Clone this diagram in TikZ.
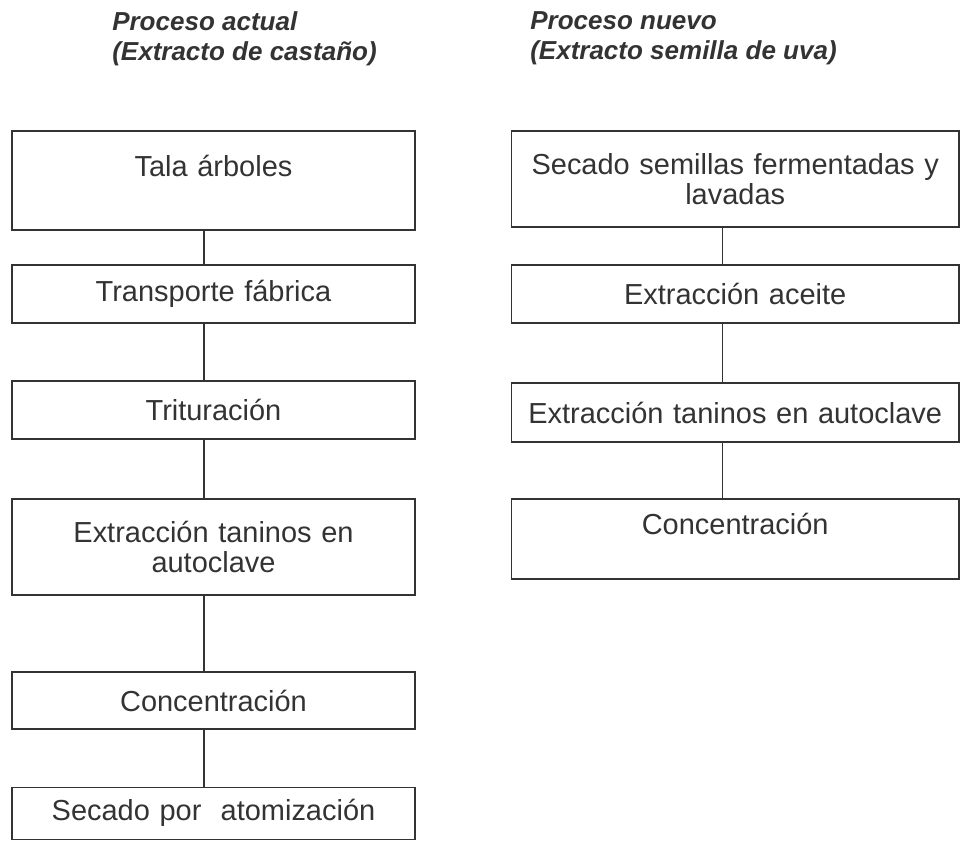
\documentclass[tikz,border=0pt]{standalone}
\usepackage{fontspec}
\setmainfont{Liberation Sans}
\usetikzlibrary{positioning}
\definecolor{ink}{HTML}{333333}

\begin{document}
\begin{tikzpicture}
		[auto,
		block/.style ={rectangle, draw=ink, line width=1pt, text=ink, minimum width=10.075cm, text width=9.7cm, align=center, inner sep=0pt, font=\fontsize{20.6}{21.3}\selectfont},
		wide/.style = {block, minimum width=11.18cm, text width=10.9cm},
		line/.style ={draw=ink, line width=1pt},
		title/.style ={text=ink, align=left, anchor=north west, inner sep=0pt, font=\fontsize{18.5}{21.3}\selectfont\bfseries\itshape},
		]
		\useasboundingbox (0,0) rectangle (24,-21);

		\draw (2.8,-0.28) node[title] (T1) {Proceso actual\\(Extracto de castaño)};
		\draw (13.25,-0.28) node[title] (T2) {Proceso nuevo\\(Extracto semilla de uva)};

		% proceso actual
		\draw (5.3375,-4.5125) node[block, minimum height=2.475cm] (L1) {Tala árboles\\~};
		\draw (5.3375,-7.35) node[block, minimum height=1.45cm] (L2) {Transporte fábrica};
		\draw (5.3375,-10.25) node[block, minimum height=1.45cm] (L3) {Trituración};
		\draw (5.3375,-13.675) node[block, minimum height=2.4cm] (L4) {Extracción taninos en\\autoclave};
		\draw (5.3375,-17.5125) node[block, minimum height=1.425cm] (L5) {Concentración};
		\draw (5.3375,-20.33) node[block, minimum height=1.3cm] (L6) {Secado por~ atomización};

		% proceso nuevo
		\draw (18.38,-4.475) node[wide, minimum height=2.4cm] (R1) {Secado semillas fermentadas y\\lavadas};
		\draw (18.38,-7.35) node[wide, minimum height=1.45cm] (R2) {Extracción aceite};
		\draw (18.38,-10.3125) node[wide, minimum height=1.475cm] (R3) {Extracción taninos en autoclave};
		\draw (18.38,-13.475) node[wide, minimum height=2cm] (R4) {Concentración\\~};

		\path[line]
		([xshift=-0.24cm]L1.south) edge ([xshift=-0.24cm]L2.north)
		([xshift=-0.24cm]L2.south) edge ([xshift=-0.24cm]L3.north)
		([xshift=-0.24cm]L3.south) edge ([xshift=-0.24cm]L4.north)
		([xshift=-0.24cm]L4.south) edge ([xshift=-0.24cm]L5.north)
		([xshift=-0.24cm]L5.south) edge ([xshift=-0.24cm]L6.north);

		\path[line]
		([xshift=-0.315cm]R1.south) edge ([xshift=-0.315cm]R2.north)
		([xshift=-0.315cm]R2.south) edge ([xshift=-0.315cm]R3.north)
		([xshift=-0.315cm]R3.south) edge ([xshift=-0.315cm]R4.north);

	\end{tikzpicture}
\end{document}
